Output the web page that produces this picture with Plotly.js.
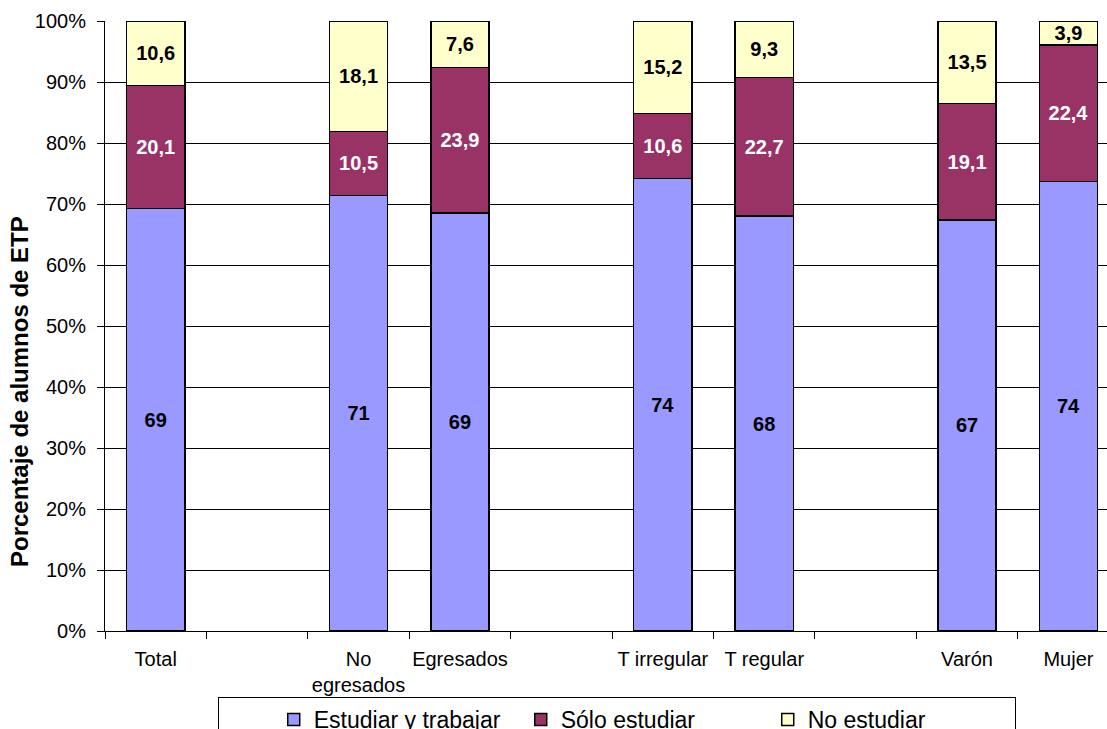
<!DOCTYPE html>
<html>
<head>
<meta charset="utf-8">
<script src="https://cdn.plot.ly/plotly-3.0.1.min.js"></script>
<style>html,body{margin:0;padding:0;background:#fff;}#chart{width:1107px;height:729px;}</style>
</head>
<body>
<div id="chart"></div>
<script>
const categories = ['Total', ' ', 'No<br>egresados', 'Egresados', '  ', 'T irregular', 'T regular', '   ', 'Varón', 'Mujer'];
const estudiarTrabajar = [69.3, null, 71.4, 68.5, null, 74.2, 68.0, null, 67.4, 73.7];
const soloEstudiar     = [20.1, null, 10.5, 23.9, null, 10.6, 22.7, null, 19.1, 22.4];
const noEstudiar       = [10.6, null, 18.1, 7.6, null, 15.2, 9.3, null, 13.5, 3.9];
const seriesNames = ['Estudiar y trabajar', 'Sólo estudiar', 'No estudiar'];
const yTitle = 'Porcentaje de alumnos de ETP';

const FONT = 'Liberation Sans, Arial, sans-serif';
function barTrace(name, vals, color, textColor, fmt) {
  return {
    type: 'bar', name: name, x: categories, y: vals,
    marker: {color: color, line: {color: '#000', width: 1.5}},
    width: 0.575,
    texttemplate: fmt,
    textposition: 'inside',
    insidetextanchor: 'middle',
    textangle: 0,
    constraintext: 'none',
    insidetextfont: {family: FONT, size: 20, color: textColor, weight: 'bold'},
    hoverinfo: 'skip'
  };
}
const data = [
  barTrace(seriesNames[0], estudiarTrabajar, '#9999FF', '#000', '%{y:.0f}'),
  barTrace(seriesNames[1], soloEstudiar, '#993366', '#fff', '%{y:.1f}'),
  barTrace(seriesNames[2], noEstudiar, '#FFFFCC', '#000', '%{y:.1f}')
];
const layout = {
  width: 1107, height: 729,
  margin: {l: 105, r: 0, t: 21, b: 98, autoexpand: false},
  paper_bgcolor: '#fff', plot_bgcolor: '#fff',
  separators: ',.',
  barmode: 'stack',
  font: {family: FONT, color: '#000'},
  xaxis: {
    type: 'category', range: [-0.5, 9.38],
    showline: true, linecolor: '#000', linewidth: 1,
    ticks: 'outside', tickson: 'boundaries', ticklen: 7, tickcolor: '#000',
    tickangle: 0, ticklabelstandoff: 10,
    tickfont: {family: FONT, size: 20, color: '#000'},
    showgrid: false, fixedrange: true
  },
  yaxis: {
    range: [0, 100], dtick: 10, ticksuffix: '%',
    showline: true, linecolor: '#000', linewidth: 1,
    ticks: 'outside', ticklen: 7, tickcolor: '#000',
    ticklabelstandoff: 7,
    tickfont: {family: FONT, size: 20, color: '#000'},
    showgrid: true, gridcolor: '#000', gridwidth: 1,
    zeroline: false
  },
  annotations: [{
    text: yTitle, textangle: -90, showarrow: false,
    xref: 'paper', yref: 'paper',
    x: (19 - 105) / 1002, y: (631 - 392) / 610,
    xanchor: 'center', yanchor: 'middle',
    font: {family: FONT, size: 24, color: '#000', weight: 'bold'}
  }],
  showlegend: true,
  legend: {
    orientation: 'h', traceorder: 'normal',
    x: (218 - 105) / 1002, xanchor: 'left',
    y: (631 - 697) / 610, yanchor: 'top',
    bordercolor: '#000', borderwidth: 1, bgcolor: '#fff',
    entrywidth: 202, entrywidthmode: 'pixels',
    title: {text: '\u00a0\u00a0\u00a0\u00a0\u00a0\u00a0\u00a0', side: 'left', font: {family: FONT, size: 23}},
    font: {family: FONT, size: 23, color: '#000'}
  }
};
Plotly.newPlot('chart', data, layout, {displayModeBar: false, staticPlot: true});
</script>
</body>
</html>
